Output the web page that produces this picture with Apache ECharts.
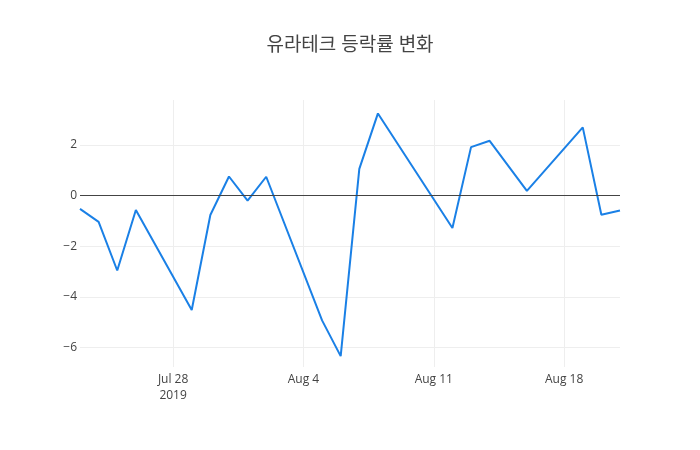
<html>
    <head>
        <meta charset="utf-8">
        <script src="https://cdn.jsdelivr.net/npm/echarts@6/dist/echarts.min.js"></script>
        <style>
            html, body { margin: 0; padding: 0; background: #fff; }
            #main { width: 700px; height: 450px; }
        </style>
    </head>
    <body>
        <div id="main"></div>

        <script>

        // 거래일 (gaps = weekends / holidays)
        var dates = [
            '2019-07-23', '2019-07-24', '2019-07-25', '2019-07-26',
            '2019-07-29', '2019-07-30', '2019-07-31', '2019-08-01', '2019-08-02',
            '2019-08-05', '2019-08-06', '2019-08-07', '2019-08-08',
            '2019-08-12', '2019-08-13', '2019-08-14', '2019-08-16',
            '2019-08-19', '2019-08-20', '2019-08-21'
        ];
        // 등락률 (%)
        var rates = [
            -0.53, -1.04, -2.96, -0.57,
            -4.52, -0.77, 0.75, -0.20, 0.74,
            -4.93, -6.34, 1.05, 3.24,
            -1.28, 1.91, 2.16, 0.18,
            2.69, -0.76, -0.59
        ];
        var xTicks = ['2019-07-28', '2019-08-04', '2019-08-11', '2019-08-18'];
        var yTicks = [-6, -4, -2, 0, 2];

        var monthNames = ['Jan', 'Feb', 'Mar', 'Apr', 'May', 'Jun', 'Jul', 'Aug', 'Sep', 'Oct', 'Nov', 'Dec'];

        function ts(s) {
            var p = s.split('-');
            return Date.UTC(+p[0], +p[1] - 1, +p[2]);
        }

        var seriesData = dates.map(function (d, i) {
            return [ts(d), rates[i]];
        });
        var xTickValues = xTicks.map(ts);

        var option = {
            backgroundColor: '#fff',
            animation: false,
            textStyle: {
                fontFamily: '"Open Sans", "Noto Sans CJK KR", sans-serif'
            },
            title: {
                text: '유라테크 등락률 변화',
                left: 'center',
                top: 31,
                textStyle: {
                    fontSize: 19,
                    fontWeight: 'normal',
                    color: '#444',
                    fontFamily: '"Open Sans", "Noto Sans CJK KR", sans-serif'
                }
            },
            grid: {
                left: 80,
                right: 80,
                top: 100,
                bottom: 83
            },
            xAxis: {
                // timestamps on a value axis so the weekly ticks can be placed freely
                type: 'value',
                min: ts(dates[0]),
                max: ts(dates[dates.length - 1]),
                axisLine: { show: false, onZero: false },
                axisTick: { show: false, customValues: xTickValues },
                splitLine: {
                    show: true,
                    lineStyle: { color: '#eee', width: 1 }
                },
                axisLabel: {
                    customValues: xTickValues,
                    color: '#444',
                    fontSize: 12,
                    margin: 5,
                    lineHeight: 16,
                    formatter: function (val) {
                        var d = new Date(val);
                        var s = monthNames[d.getUTCMonth()] + ' ' + d.getUTCDate();
                        if (val === xTickValues[0]) {
                            s += '\n' + d.getUTCFullYear();
                        }
                        return s;
                    }
                }
            },
            yAxis: {
                type: 'value',
                min: -6.77,
                max: 3.77,
                axisLine: { show: false },
                axisTick: { show: false, customValues: yTicks },
                splitLine: {
                    show: true,
                    lineStyle: { color: '#eee', width: 1 }
                },
                axisLabel: {
                    customValues: yTicks,
                    color: '#444',
                    fontSize: 12,
                    margin: 3,
                    formatter: function (v) {
                        return String(v).replace('-', '\u2212');
                    }
                }
            },
            series: [
                {
                    type: 'line',
                    data: seriesData,
                    showSymbol: false,
                    symbol: 'none',
                    lineStyle: {
                        color: '#1a80e6',
                        width: 2
                    },
                    markLine: {
                        silent: true,
                        symbol: 'none',
                        label: { show: false },
                        lineStyle: {
                            color: '#444',
                            width: 1,
                            type: 'solid'
                        },
                        data: [{ yAxis: 0 }]
                    },
                    z: 3
                }
            ]
        };

        var myChart = echarts.init(document.getElementById('main'));
        myChart.setOption(option);

        </script>
    </body>
</html>
